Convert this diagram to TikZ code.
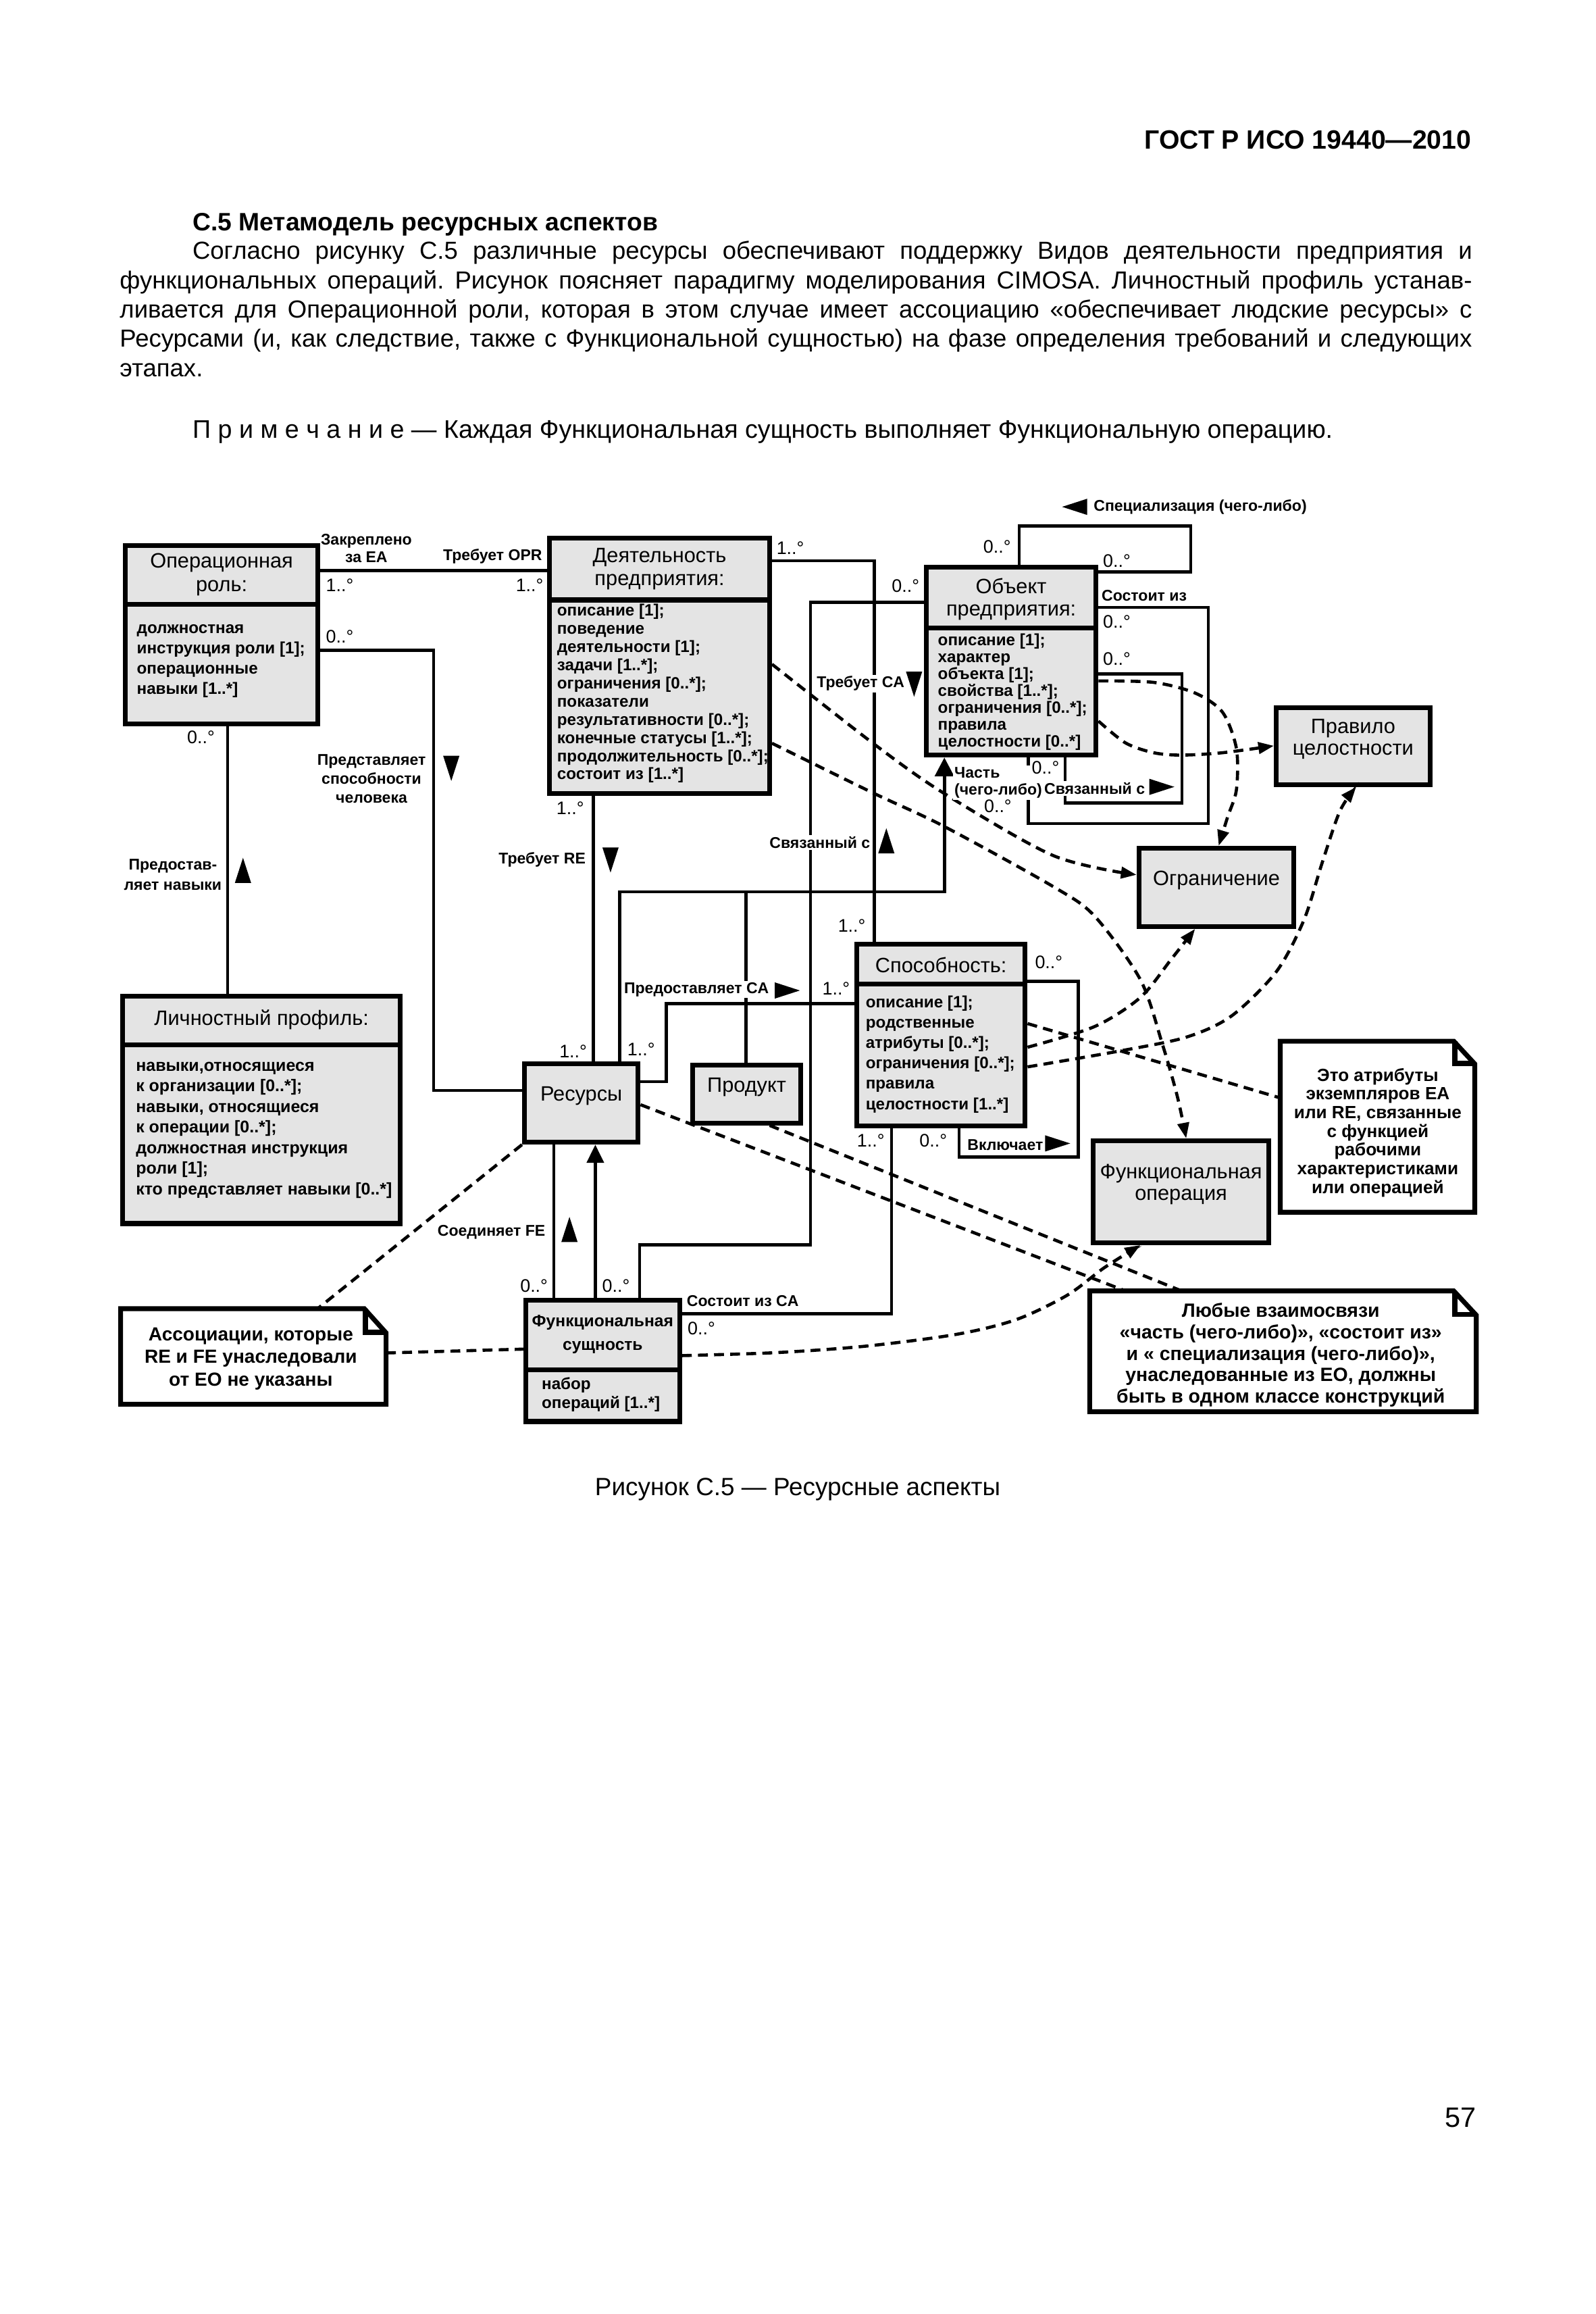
\documentclass[tikz,border=0pt]{standalone}
\usepackage{fontspec}
\setmainfont{Liberation Sans}
\usetikzlibrary{arrows.meta, fit}
\definecolor{boxgray}{RGB}{228,228,228}
\frenchspacing

\tikzset{
  umlbox/.style={draw, line width=1.85pt, fill=boxgray, inner sep=0pt},
  divider/.style={line width=1.85pt},
  notebox/.style={line width=1.85pt, line join=miter},
  title/.style={align=center, font=\fontsize{8}{#1}\selectfont},
  title/.default=9,
  attr/.style={align=left, anchor=west, inner sep=0pt, font=\bfseries\fontsize{6.3}{#1}\selectfont},
  notetext/.style 2 args={inner sep=0pt, align=center, font=\bfseries\fontsize{#1}{#2}\selectfont},
  assoc/.style={align=center, inner sep=0.6pt, font=\bfseries\fontsize{6}{#1}\selectfont},
  assoc/.default=7,
  assocw/.style={assoc=#1, fill=white},
  assocw/.default=7,
  mult/.style={inner sep=0pt, font=\fontsize{7}{8}\selectfont},
  assocline/.style={line width=1.2pt},
  depline/.style={line width=1.2pt, dash pattern=on 3.8pt off 2.4pt},
  deptip/.style={-{Triangle[length=6pt,width=4.4pt]}},
  bodytext/.style={inner sep=0pt, anchor=base west, font=\fontsize{9.5}{11.3}\selectfont},
  tdown/.pic={\fill (-5.5,-8.5) -- (5.5,-8.5) -- (0,8.5) -- cycle;},
  tup/.pic={\fill (-5.5,8.5) -- (5.5,8.5) -- (0,-8.5) -- cycle;},
  tright/.pic={\fill (-8.5,-5.5) -- (-8.5,5.5) -- (8.5,0) -- cycle;},
  tleft/.pic={\fill (8.5,-5.5) -- (8.5,5.5) -- (-8.5,0) -- cycle;},
}

\begin{document}
\begin{tikzpicture}[x=0.02cm, y=-0.02cm]
    \useasboundingbox (0,0) rectangle (1080,1566);

    % Page head and text above the figure
    \node[inner sep=0pt, anchor=base east, font=\bfseries\fontsize{10.2}{12}\selectfont] (gost) at (996.3,101) {ГОСТ Р ИСО 19440—2010};
    \node[inner sep=0pt, anchor=base west, font=\bfseries\fontsize{9.7}{12}\selectfont] (sect) at (130,156) {С.5 Метамодель ресурсных аспектов};
    \node[bodytext] (body1) at (130,175.5) {\makebox[17.33cm][s]{Согласно рисунку С.5 различные ресурсы обеспечивают поддержку Видов деятельности предприятия и}};
    \node[bodytext] (body2) at (80.8,195.3) {\makebox[18.31cm][s]{функциональных операций. Рисунок поясняет парадигму моделирования CIMOSA. Личностный профиль устанав-}};
    \node[bodytext] (body3) at (80.8,215.2) {\makebox[18.31cm][s]{ливается для Операционной роли, которая в этом случае имеет ассоциацию «обеспечивает людские ресурсы» с}};
    \node[bodytext] (body4) at (80.8,235) {\makebox[18.31cm][s]{Ресурсами (и, как следствие, также с Функциональной сущностью) на фазе определения требований и следующих}};
    \node[bodytext] (body5) at (80.8,254.9) {этапах.};
    \node[bodytext, font=\fontsize{9.8}{11.3}\selectfont] (prim) at (130,296.5) {П р и м е ч а н и е — Каждая Функциональная сущность выполняет Функциональную операцию.};

    % Classes with two compartments
    \node[umlbox, fit={(85,369) (215,490)}] (opr) {};
    \draw[divider] (opr.west |- 0,409) -- (opr.east |- 0,409);
    \node[title=9.1] (opr-t) at (150,389) {Операционная\\роль:};
    \node[attr=7.8] (opr-a) at (92.3,447.2) {должностная\\инструкция роли [1];\\операционные\\навыки [1..*]};

    \node[umlbox, fit={(372,364) (521,537)}] (deyat) {};
    \draw[divider] (deyat.west |- 0,406) -- (deyat.east |- 0,406);
    \node[title=8.8] (deyat-t) at (446.5,385) {Деятельность\\предприятия:};
    \node[attr=7] (deyat-a) at (376.8,469.4) {описание [1];\\поведение\\деятельности [1];\\задачи [1..*];\\ограничения [0..*];\\показатели\\результативности [0..*];\\конечные статусы [1..*];\\продолжительность [0..*];\\состоит из [1..*]};

    \node[umlbox, fit={(627,384) (742,511)}] (obj) {};
    \draw[divider] (obj.west |- 0,425) -- (obj.east |- 0,425);
    \node[title=8.5] (obj-t) at (684.5,405.5) {Объект\\предприятия:};
    \node[attr=6.5] (obj-a) at (634.6,468.3) {описание [1];\\характер\\объекта [1];\\свойства [1..*];\\ограничения [0..*];\\правила\\целостности [0..*]};

    \node[umlbox, fit={(580,639) (694,762)}] (spos) {};
    \draw[divider] (spos.west |- 0,666) -- (spos.east |- 0,666);
    \node[title] (spos-t) at (637,653) {Способность:};
    \node[attr=7.86] (spos-a) at (585.7,713.4) {описание [1];\\родственные\\атрибуты [0..*];\\ограничения [0..*];\\правила\\целостности [1..*]};

    \node[umlbox, fit={(83,674) (271,828)}] (lichn) {};
    \draw[divider] (lichn.west |- 0,707) -- (lichn.east |- 0,707);
    \node[title] (lichn-t) at (177,690) {Личностный профиль:};
    \node[attr=7.94, font=\bfseries\fontsize{6.5}{7.94}\selectfont] (lichn-a) at (91.7,764.8) {навыки,относящиеся\\к организации [0..*];\\навыки, относящиеся\\к операции [0..*];\\должностная инструкция\\роли [1];\\кто представляет навыки [0..*]};

    \node[umlbox, fit={(356,880) (460,962)}] (funcs) {};
    \draw[divider] (funcs.west |- 0,927) -- (funcs.east |- 0,927);
    \node[title=9.1, font=\bfseries\fontsize{6.4}{9.1}\selectfont] (funcs-t) at (408,903) {Функциональная\\сущность};
    \node[attr=7.3] (funcs-a) at (366.4,943.8) {набор\\операций [1..*]};

    % Classes with one compartment
    \node[umlbox, title, fit={(355,720) (432,773)}] (resursy) {Ресурсы};
    \node[umlbox, title, fit={(469,721) (542,760)}] (produkt) {Продукт};
    \node[umlbox, title=8.5, fit={(864,479) (968,531)}] (pravilo) {Правило\\целостности};
    \node[umlbox, title, fit={(771,574) (876,627)}] (ogr) {Ограничение};
    \node[umlbox, title=8.2, fit={(740,772) (859,841)}] (funcop) {Функциональная\\операция};

    % Notes with a folded corner
    \node[inner sep=0pt, fit={(867,705) (998,820)}] (note1) {};
    \draw[notebox] (note1.north west) -- ++(117.5,0) -- (note1.east |- 0,720) -- (note1.south east) -- (note1.south west) -- cycle;
    \draw[notebox] (note1.north east) ++(-13.5,0) -- ++(0,15) -- ++(13.5,0);
    \node[notetext={6.8}{7.2}] (note1-t) at (932.7,766.5) {Это атрибуты\\экземпляров EA\\или RE, связанные\\с функцией\\рабочими\\характеристиками\\или операцией};

    \node[inner sep=0pt, fit={(738,874) (999,955)}] (note2) {};
    \draw[notebox] (note2.north west) -- ++(246.5,0) -- (note2.east |- 0,890) -- (note2.south east) -- (note2.south west) -- cycle;
    \draw[notebox] (note2.north east) ++(-14.5,0) -- ++(0,16) -- ++(14.5,0);
    \node[notetext={7.4}{8.3}] (note2-t) at (867,917) {Любые взаимосвязи\\«часть (чего-либо)», «состоит из»\\и « специализация (чего-либо)»,\\унаследованные из EO, должны\\быть в одном классе конструкций};

    \node[inner sep=0pt, fit={(82,886) (261,950)}] (note3) {};
    \draw[notebox] (note3.north west) -- ++(165,0) -- (note3.east |- 0,902) -- (note3.south east) -- (note3.south west) -- cycle;
    \draw[notebox] (note3.north east) ++(-14,0) -- ++(0,16) -- ++(14,0);
    \node[notetext={7.3}{8.65}] (note3-t) at (169.8,919.5) {Ассоциации, которые\\RE и FE унаследовали\\от EO не указаны};

    % Associations
    \draw[assocline] (opr.east |- 0,386) -- (deyat.west |- 0,386);
    \draw[assocline] (opr.east |- 0,440) -| (293.5,738) -- (resursy.west |- 0,738);
    \draw[assocline] (opr.south -| 154,0) -- (lichn.north -| 154,0);
    \draw[assocline] (deyat.south -| 401.6,0) -- (resursy.north -| 401.6,0);
    \draw[assocline] (deyat.east |- 0,379.5) -| (spos.north -| 591.8,0);
    \draw[assocline] (obj.west |- 0,407.6) -| (548.7,842.3) -| (funcs.north -| 433,0);
    \draw[assocline, -{Triangle[length=7.3pt,width=7.3pt]}] (resursy.north -| 419.4,0) |- (639.3,603.6) -- (obj.south -| 639.3,0);
    \draw[assocline] (produkt.north -| 505,0) -- (505,603.6);
    \draw[assocline] (resursy.east |- 0,732) -| (451,679.3) -- (spos.west |- 0,679.3);
    \draw[assocline] (funcs.east |- 0,889.2) -| (spos.south -| 603.5,0);
    \draw[assocline] (funcs.north -| 375,0) -- (resursy.south -| 375,0);
    \draw[assocline, -{Triangle[length=7pt,width=6.5pt]}] (funcs.north -| 403,0) -- (resursy.south -| 403,0);

    % Self loops
    \draw[assocline] (spos.east |- 0,664) -| (730,783) -| (spos.south -| 649.3,0);
    \draw[assocline] (obj.north -| 690,0) |- (806,356) |- (obj.east |- 0,387);
    \draw[assocline] (obj.east |- 0,411) -| (818,557.3) -| (obj.south -| 696,0);
    \draw[assocline] (obj.east |- 0,456) -| (800.2,543.5) -| (obj.south -| 721,0);

    % Dependencies
    \draw[depline, deptip] plot[smooth] coordinates {(deyat.east |- 0,449.5) (591,503) (638.6,536.6) (713,579) (ogr.west |- 0,592)};
    \draw[depline, deptip] plot[smooth] coordinates {(deyat.east |- 0,503) (591,536.6) (638.6,559) (713,600) (741,620) (772,663) (787,707) (797,742) (funcop.north -| 803,0)};
    \draw[depline, deptip] plot[smooth] coordinates {(obj.east |- 0,460.8) (781,461.8) (809,469) (827.6,482) (837,506.5) (837,534.5) (831,553) (ogr.north -| 825,0)};
    \draw[depline, deptip] plot[smooth] coordinates {(obj.east |- 0,488) (762,502.8) (781,509.4) (799.7,511) (827.6,509.4) (pravilo.west |- 0,504.7)};
    \draw[depline] (spos.east |- 0,692.7) -- (note1.west |- 0,743);
    \draw[depline, deptip] plot[smooth] coordinates {(spos.east |- 0,708.7) (741,694.7) (772,675) (793,649) (ogr.south -| 809,0)};
    \draw[depline, deptip] plot[smooth] coordinates {(spos.east |- 0,722) (756.6,711.5) (802.7,702) (833.6,687.6) (864,657.6) (882.7,622.6) (895,584) (907,549) (pravilo.south -| 918,0)};
    \draw[depline] (resursy.east |- 0,747.6) -- (note2.north -| 762,0);
    \draw[depline] (produkt.south -| 521,0) -- (note2.north -| 800,0);
    \draw[depline] (resursy.south west) -- (note3.north -| 215,0);
    \draw[depline] (note3.east |- 0,915.6) -- (funcs.west |- 0,913);
    \draw[depline, deptip] plot[smooth] coordinates {(funcs.east |- 0,917.4) (525,915.4) (586,911) (647.5,903) (688,893) (722.5,876.5) (747.4,858) (funcop.south -| 772,0)};

    % Association names and their direction marks
    \node[assoc=6.8] (l-zakr) at (248,371) {Закреплено\\за EA};
    \node[assoc] (l-trebopr) at (333.5,376.5) {Требует OPR};
    \node[assoc=7.4] (l-predsp) at (251.5,527) {Представляет\\способности\\человека};
    \pic at (305.5,520) {tdown};
    \node[assoc=7.7] (l-prednav) at (117,592) {Предостав-\\ляет навыки};
    \pic at (164.5,589) {tup};
    \node[assoc] (l-trebre) at (367,582) {Требует RE};
    \pic at (413.3,582) {tdown};
    \node[assocw] (l-predca) at (471.5,669.7) {Предоставляет CA};
    \pic at (533,670.3) {tright};
    \node[assocw] (l-trebca) at (582.6,462.6) {Требует CA};
    \pic at (618.8,463) {tdown};
    \node[assocw] (l-svyaz1) at (555,570) {Связанный с};
    \pic at (600,569) {tup};
    \pic at (727.5,343) {tleft};
    \node[assoc, anchor=west] (l-spec) at (739,343) {Специализация (чего-либо)};
    \node[assoc] (l-sost) at (774.6,403.2) {Состоит из};
    \node[assocw=6.5, align=left, anchor=west] (l-chast) at (644.7,529.7) {Часть\\(чего-либо)};
    \node[assocw] (l-svyaz2) at (741,533.6) {Связанный с};
    \pic at (786.5,532.5) {tright};
    \node[assoc] (l-vkl) at (680.5,774.7) {Включает};
    \pic at (716,773.8) {tright};
    \node[assoc] (l-soed) at (332.7,833.7) {Соединяет FE};
    \pic at (385.5,832) {tup};
    \node[assoc] (l-sostca) at (502.8,880.6) {Состоит из CA};

    % Multiplicities
    \node[mult] (m1) at (230,396) {1..°};
    \node[mult] (m2) at (358.5,396) {1..°};
    \node[mult] (m3) at (230,431) {0..°};
    \node[mult] (m4) at (136,499) {0..°};
    \node[mult] (m5) at (386,547) {1..°};
    \node[mult] (m6) at (388,711.6) {1..°};
    \node[mult] (m7) at (434,710) {1..°};
    \node[mult] (m8) at (566,669) {1..°};
    \node[mult] (m9) at (576.6,626.4) {1..°};
    \node[mult] (m10) at (535,371) {1..°};
    \node[mult] (m11) at (613,396.4) {0..°};
    \node[mult] (m12) at (675,370) {0..°};
    \node[mult] (m13) at (756,379.6) {0..°};
    \node[mult] (m14) at (756,420.7) {0..°};
    \node[mult] (m15) at (756,445.8) {0..°};
    \node[mult] (m16) at (707.8,519.5) {0..°};
    \node[mult] (m17) at (675.5,545.7) {0..°};
    \node[mult] (m18) at (710,651) {0..°};
    \node[mult] (m19) at (589.5,771.7) {1..°};
    \node[mult] (m20) at (631.8,771.7) {0..°};
    \node[mult] (m21) at (361.5,870) {0..°};
    \node[mult] (m22) at (417,870) {0..°};
    \node[mult] (m23) at (474.8,899) {0..°};

    % Caption and page number
    \node[inner sep=0pt, anchor=base, font=\fontsize{9.6}{11}\selectfont] (caption) at (540,1012) {Рисунок С.5 — Ресурсные аспекты};
    \node[inner sep=0pt, anchor=base east, font=\fontsize{10.8}{12}\selectfont] (page) at (999.5,1439.4) {57};
\end{tikzpicture}
\end{document}
